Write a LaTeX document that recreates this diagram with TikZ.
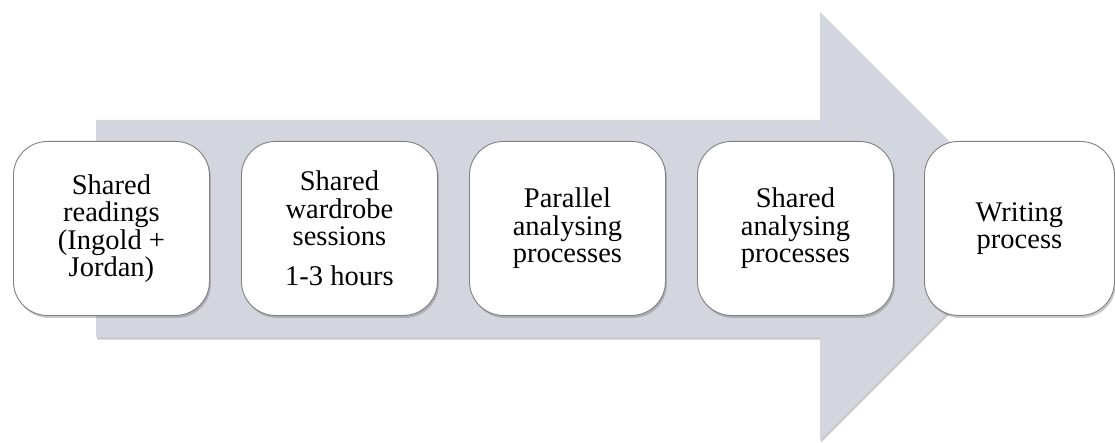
\documentclass[tikz,border=0pt]{standalone}
\usepackage{fontspec}
\setmainfont{Liberation Serif}
\usetikzlibrary{shadows}
\definecolor{arrowfill}{HTML}{D3D6DE}
\definecolor{boxline}{HTML}{808080}
\tikzset{
  stagebox/.style={draw=boxline, line width=0.9pt, fill=white, rounded corners=34pt,
    minimum width=196pt, minimum height=174pt, align=center, anchor=north west,
    inner sep=0pt, font=\fontsize{28.5}{27.5}\selectfont,
    drop shadow={shadow xshift=1.5pt, shadow yshift=-2.5pt, opacity=0.35, fill=black!60}},
  bigarrow/.style={fill=arrowfill, draw=none,
    drop shadow={shadow xshift=1pt, shadow yshift=-2.5pt, opacity=0.35, fill=black!60}}
}
\begin{document}
\begin{tikzpicture}[x=1pt,y=-1pt]
\useasboundingbox (0,0) rectangle (1115,443);
% big arrow
\path[bigarrow] (96,120) -- (820,120) -- (820,12) -- (1034,226) -- (820,440) -- (820,337) -- (96,337) -- cycle;
% stages
\node[stagebox] (s1) at (13,141) {Shared\\readings\\(Ingold +\\Jordan)};
\node[stagebox] (s2) at (241,141) {Shared\\wardrobe\\sessions\\[12pt]1-3 hours};
\node[stagebox] (s3) at (469,141) {Parallel\\analysing\\processes};
\node[stagebox] (s4) at (697,141) {Shared\\analysing\\processes};
\node[stagebox, minimum width=190pt] (s5) at (924,141) {Writing\\process};
\end{tikzpicture}
\end{document}
